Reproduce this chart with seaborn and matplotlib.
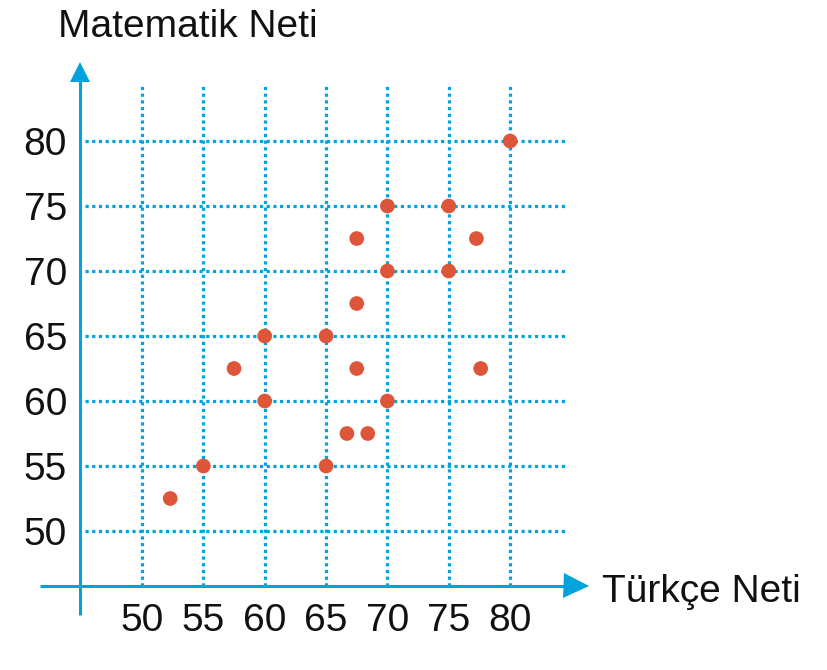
import matplotlib
matplotlib.use("Agg")
import matplotlib.pyplot as plt
import seaborn as sns
import pandas as pd

# Data
turkce = [52.3, 55, 57.5, 60, 60, 65, 65, 66.7, 67.5, 67.5, 67.5, 68.4, 70, 70, 70, 75, 75, 77.25, 77.6, 80]
matematik = [52.5, 55, 62.5, 65, 60, 65, 55, 57.5, 72.5, 67.5, 62.5, 57.5, 75, 70, 60, 75, 70, 72.5, 62.5, 80]
ticks = [50, 55, 60, 65, 70, 75, 80]
x_label = "Türkçe Neti"
y_label = "Matematik Neti"

df = pd.DataFrame({"Türkçe": turkce, "Matematik": matematik})

sns.set_style("white")
plt.rcParams["font.family"] = ["Liberation Sans", "DejaVu Sans"]

BLUE = "#00A3DD"
RED = "#DE5639"
TXT = "#111111"

W, H = 828, 670
fig = plt.figure(figsize=(W / 100, H / 100), dpi=100)
ax = fig.add_axes([80 / W, (H - 586) / H, (576.5 - 80) / W, (586 - 72) / H])

xmin, xmax = 44.947, 85.41
ymin, ymax = 45.769, 85.31
ax.set_xlim(xmin, xmax)
ax.set_ylim(ymin, ymax)

# dotted grid
ax.vlines(ticks, ymin, 84.3, colors=BLUE, linewidth=2.3, linestyles=(0, (1, 1.1)), zorder=1)
ax.hlines(ticks, 45.35, 84.47, colors=BLUE, linewidth=2.3, linestyles=(0, (1, 1.1)), zorder=1)

sns.scatterplot(data=df, x="Türkçe", y="Matematik", ax=ax, color=RED, s=112,
                edgecolor="none", zorder=3, legend=False)

# axes lines
for side in ["top", "right"]:
    ax.spines[side].set_visible(False)
for side in ["left", "bottom"]:
    ax.spines[side].set_color(BLUE)
    ax.spines[side].set_linewidth(2.2)
# extensions past origin
ax.plot([41.69, xmin], [ymin, ymin], color=BLUE, lw=2.2, clip_on=False, solid_capstyle="butt")
ax.plot([xmin, xmin], [43.54, ymin], color=BLUE, lw=2.2, clip_on=False, solid_capstyle="butt")
# arrow heads
ax.plot([xmin], [ymax], marker="^", ms=15, color=BLUE, clip_on=False, mew=0)
ax.plot([xmax], [ymin], marker=">", ms=18, color=BLUE, clip_on=False, mew=0)

ax.set_xticks(ticks)
ax.set_yticks(ticks)
ax.set_xticklabels([str(t) for t in ticks])
ax.set_yticklabels([str(t) for t in ticks])
ax.tick_params(axis="both", length=0, labelsize=28, colors=TXT)
ax.tick_params(axis="x", pad=12)
ax.tick_params(axis="y", pad=9.4)
for lab in ax.get_yticklabels():
    lab.set_y(lab.get_position()[1])
ax.set_xlabel("")
ax.set_ylabel("")

fig.text(58 / W, 1 - 37 / H, y_label, fontsize=28, color=TXT, va="baseline", ha="left")
fig.text(602 / W, 1 - 601.5 / H, x_label, fontsize=28, color=TXT, va="baseline", ha="left")

fig.savefig("out.png", dpi=100, facecolor="white")
